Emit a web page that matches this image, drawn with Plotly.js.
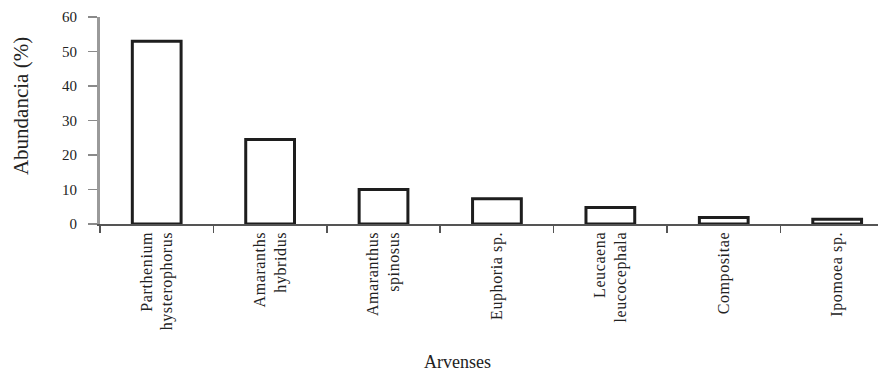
<!DOCTYPE html>
<html>
<head>
<meta charset="utf-8">
<script src="https://cdn.plot.ly/plotly-3.0.1.min.js"></script>
<style>
html,body{margin:0;padding:0;background:#fff;}
#chart{width:878px;height:375px;}
.xtick text{letter-spacing:0.6px;}
</style>
</head>
<body>
<div id="chart"></div>
<script>
const categories = [
  'Parthenium<br>hysterophorus',
  'Amaranths<br>hybridus',
  'Amaranthus<br>spinosus',
  'Euphoria sp.',
  'Leucaena<br>leucocephala',
  'Compositae',
  'Ipomoea sp.'
];
const abundancia = [53, 24.5, 10, 7.3, 4.8, 1.9, 1.4];
const yTicks = [0, 10, 20, 30, 40, 50, 60];
const xTitle = 'Arvenses';
const yTitle = 'Abundancia (%)';

const serif = '"Liberation Serif", "Times New Roman", "DejaVu Serif", serif';

const trace = {
  type: 'bar',
  x: categories,
  y: abundancia,
  width: 0.43,
  marker: {color: '#ffffff', line: {color: '#1e1e1e', width: 3}},
  hoverinfo: 'skip'
};

const layout = {
  width: 878, height: 375,
  margin: {l: 100, r: 0, t: 17, b: 151, pad: 0},
  paper_bgcolor: '#ffffff', plot_bgcolor: '#ffffff',
  showlegend: false,
  font: {family: serif, color: '#222'},
  xaxis: {
    type: 'category',
    range: [-0.5, 6.36],
    showgrid: false, zeroline: false,
    showline: true, linecolor: '#555', linewidth: 1.5,
    ticks: 'outside', tickson: 'boundaries', ticklen: 7, tickwidth: 1.5, tickcolor: '#555',
    tickangle: -90,
    tickfont: {family: serif, size: 16, color: '#222'},
    fixedrange: true
  },
  yaxis: {
    range: [0, 60],
    tickvals: yTicks,
    ticktext: yTicks.map(String),
    showgrid: false, zeroline: false,
    showline: true, linecolor: '#9a9a9a', linewidth: 3,
    ticks: 'outside', ticklen: 9, tickwidth: 1.5, tickcolor: '#8a8a8a',
    ticklabelstandoff: 8,
    tickfont: {family: serif, size: 15, color: '#222'},
    fixedrange: true
  },
  annotations: [
    {text: yTitle, xref: 'paper', yref: 'paper', x: -0.1015, y: 0.57,
     xanchor: 'center', yanchor: 'middle', textangle: -90, showarrow: false,
     font: {family: serif, size: 21, color: '#222'}},
    {text: xTitle, xref: 'paper', yref: 'paper', x: 0.459, y: -0.667,
     xanchor: 'center', yanchor: 'middle', showarrow: false,
     font: {family: serif, size: 18, color: '#222'}}
  ]
};

Plotly.newPlot('chart', [trace], layout, {displayModeBar: false, staticPlot: true});
</script>
</body>
</html>
